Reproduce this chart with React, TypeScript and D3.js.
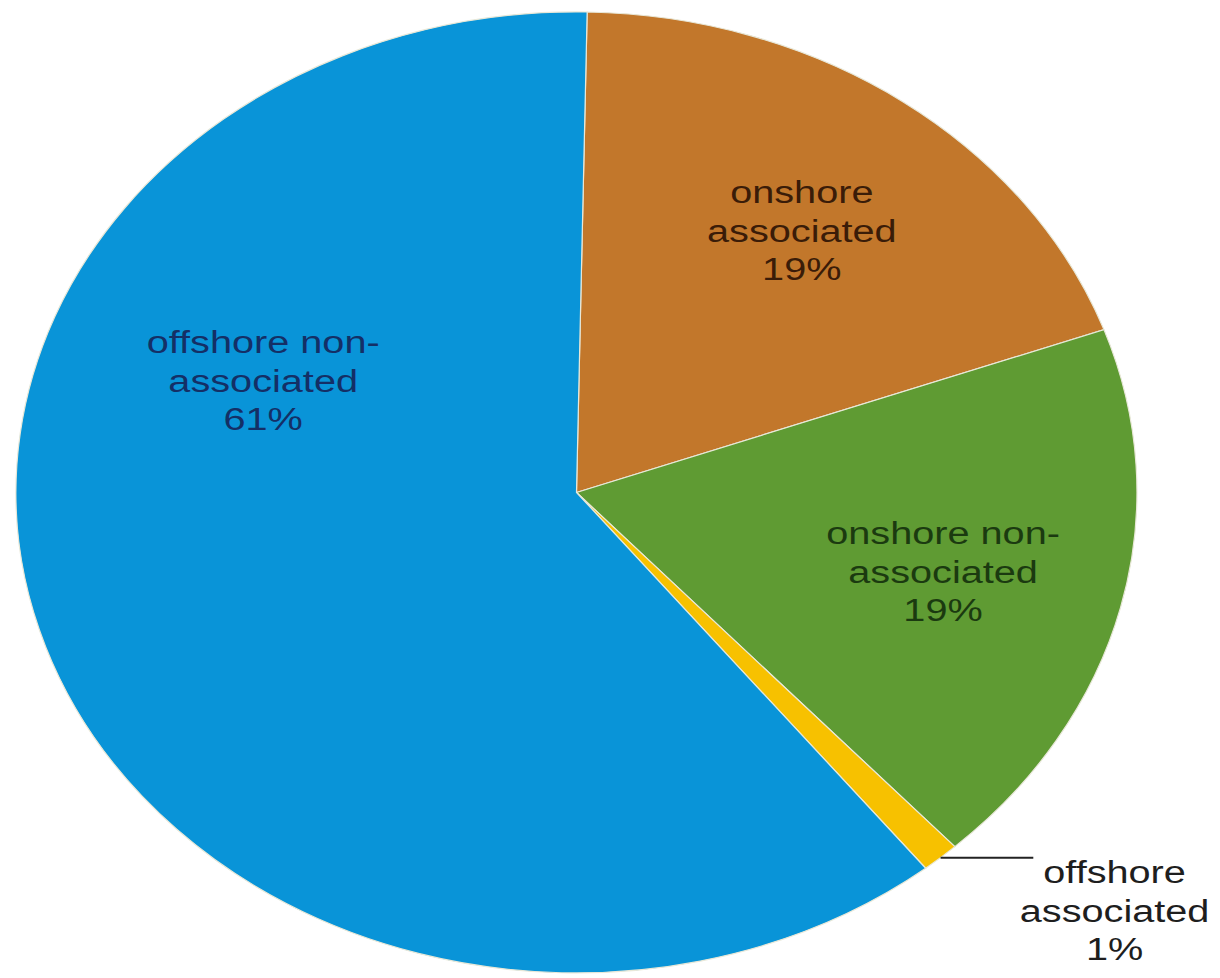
import React from "react";
import * as d3 from "d3";

const categories = [
  "onshore associated",
  "onshore non-associated",
  "offshore associated",
  "offshore non-associated",
];
const shares = [19.2, 18.7, 1.1, 61.0];
const labelLines = [
  ["onshore", "associated", "19%"],
  ["onshore non-", "associated", "19%"],
  ["offshore", "associated", "1%"],
  ["offshore non-", "associated", "61%"],
];

const fills = ["#C2772B", "#5F9B33", "#F7C100", "#0994D8"];
const textColors = ["#3A1C08", "#1B3A10", "#1E1E1E", "#142F66"];
// label anchor (normalized ellipse coords) for each slice, center of middle line
const labelAnchors: [number, number][] = [
  [0.402, -0.545],
  [0.654, 0.165],
  [0.96, 0.87],
  [-0.559, -0.233],
];

const W = 1220;
const H = 978;
const cx = 576.5;
const cy = 492.5;
const rx = 560.5;
const ry = 480.5;
const startAngle = 0.0187;

export default function App() {
  const xs = d3.scaleLinear().domain([-1, 1]).range([cx - rx, cx + rx]);
  const ys = d3.scaleLinear().domain([-1, 1]).range([cy - ry, cy + ry]);
  const pie = d3
    .pie<number>()
    .sort(null)
    .value((d) => d)
    .startAngle(startAngle)
    .endAngle(startAngle + 2 * Math.PI);
  const arcs = pie(shares);
  const arc = d3.arc<d3.PieArcDatum<number>>().innerRadius(0).outerRadius(1);

  const fontSize = 31;
  const lineH = 38.5;
  const sx = 1.28;

  // leader line for the small slice
  const small = arcs[2];
  const midA = (small.startAngle + small.endAngle) / 2;
  const lx0 = xs(Math.sin(midA) * 1.0);
  const ly0 = ys(-Math.cos(midA) * 1.0);
  const lx1 = xs(0.815);

  return (
    <svg
      width={W}
      height={H}
      style={{ position: "absolute", left: 0, top: 0, background: "#fff" }}
    >
      <g transform={`translate(${cx},${cy}) scale(${rx},${ry})`}>
        {arcs.map((a, i) => (
          <path
            key={categories[i]}
            d={arc(a) || ""}
            fill={fills[i]}
            stroke="#e8e8d8"
            strokeWidth={1.2}
            vectorEffect="non-scaling-stroke"
          />
        ))}
      </g>
      <line x1={lx0} y1={ly0} x2={lx1} y2={ly0} stroke="#222" strokeWidth={2} />
      {labelLines.map((lines, i) => {
        const [u, v] = labelAnchors[i];
        const x = xs(u);
        const y = ys(v);
        return (
          <g key={categories[i]}>
            {lines.map((t, j) => (
              <text
                key={j}
                transform={`translate(${x},${y + (j - 1) * lineH + fontSize * 0.36}) scale(${sx},1)`}
                textAnchor="middle"
                fontFamily="'Liberation Sans', Arial, sans-serif"
                fontSize={fontSize}
                fill={textColors[i]}
              >
                {t}
              </text>
            ))}
          </g>
        );
      })}
    </svg>
  );
}
